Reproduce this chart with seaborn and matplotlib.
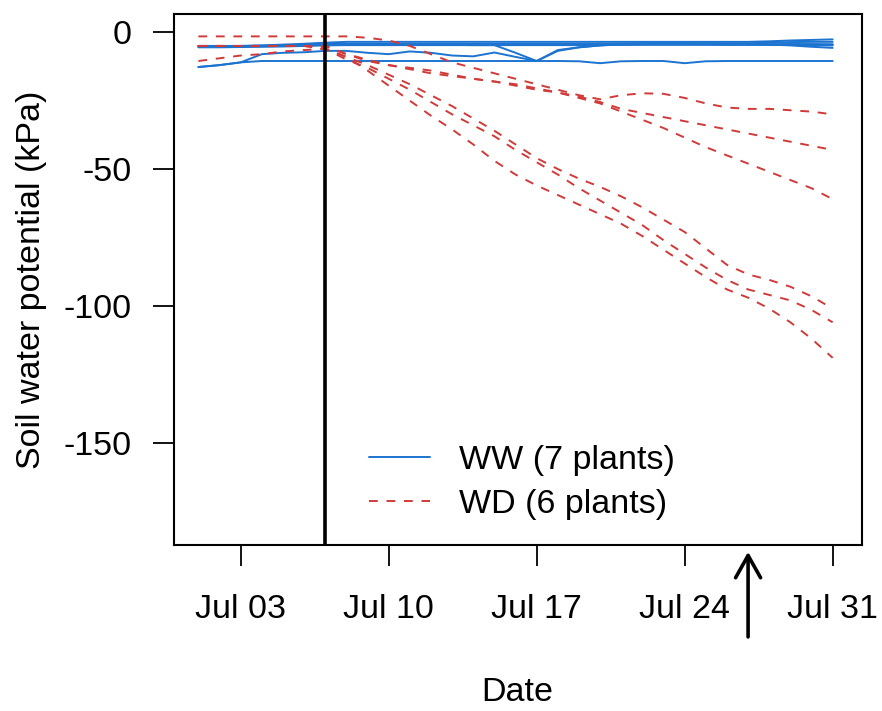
import numpy as np
import pandas as pd
import matplotlib
matplotlib.use("Agg")
import matplotlib.pyplot as plt
import matplotlib.dates as mdates
from matplotlib.lines import Line2D
import seaborn as sns

sns.set_theme(style="white")
plt.rcParams['font.family'] = ['Liberation Sans', 'DejaVu Sans']
plt.rcParams['text.color'] = 'black'

dates = pd.date_range("2023-07-01", "2023-07-31", freq="D")

# Well-watered (WW) plants, kPa
ww1 = [-12.7, -12, -11, -10.5, -10.5, -10.5, -10.5, -10.5, -10.5, -10.5, -10.5, -10.5, -10.5, -10.5, -10.5,
       -10.5, -10.5, -10.5, -10.6, -11.3, -10.6, -10.5, -10.5, -11.3, -10.6, -10.5, -10.5, -10.5, -10.5, -10.5, -10.5]
ww2 = [-12.7, -12, -11, -8, -7.5, -7.3, -6.8, -6.8, -7.5, -8, -7, -7.5, -8.5, -8.8, -7.4,
       -9, -10.5, -6.8, -5.5, -4.8, -4.3, -4.2, -4.2, -4.2, -4.3, -4.3, -4.3, -4.5, -4.8, -5.3, -5.7]
ww3 = [-5, -5, -5, -5, -4.8, -4.6, -4.5, -4.5, -4.5, -4.5, -4.5, -4.5, -4.6, -4.7, -4.7,
       -7.5, -10.5, -6.5, -5.5, -4.8, -4.5, -4.3, -4.2, -4.2, -4.3, -4.4, -4.4, -4.4, -4.3, -4.3, -4.4]
ww4 = [-5, -5, -5, -4.8, -4.5, -4.2, -3.8, -3.5, -3.5, -3.5, -3.5, -3.5, -3.5, -3.5, -3.5,
       -3.5, -3.5, -3.5, -3.5, -3.5, -3.5, -3.5, -3.5, -3.5, -3.5, -3.5, -3.5, -3.3, -3.0, -2.8, -2.6]
ww5 = [-5, -5, -5, -4.9, -4.8, -4.6, -4.3, -4.2, -4.2, -4.2, -4.2, -4.2, -4.2, -4.2, -4.2,
       -4.2, -4.2, -4.2, -4.2, -4.2, -4.1, -4.0, -4.0, -4.0, -4.0, -4.0, -4.0, -3.8, -3.6, -3.5, -3.5]
ww6 = [-5.3, -5.3, -5.2, -5.1, -5, -4.8, -4.6, -4.5, -4.5, -4.5, -4.5, -4.5, -4.5, -4.5, -4.5,
       -4.5, -4.5, -4.5, -4.5, -4.5, -4.4, -4.4, -4.4, -4.4, -4.4, -4.5, -4.5, -4.6, -4.6, -4.7, -4.8]
ww7 = [-5.5, -5.5, -5.4, -5.3, -5.2, -5.0, -4.8, -4.7, -4.7, -4.7, -4.7, -4.7, -4.7, -4.7, -4.7,
       -4.7, -4.7, -4.7, -4.7, -4.7, -4.6, -4.6, -4.6, -4.6, -4.6, -4.6, -4.6, -4.5, -4.5, -4.5, -4.5]

# Water-deficit (WD) plants, kPa
wd1 = [-1.5, -1.5, -1.5, -1.5, -1.5, -1.5, -1.5, -1.5, -2, -3, -5, -8, -11, -13, -15,
       -17, -19, -21, -23, -24.5, -23, -22.3, -22.5, -24, -26, -27.5, -28, -28, -28.5, -29, -30]
wd2 = [-5, -5, -5, -5, -5, -5, -5, -8, -10, -12, -13, -14, -15.5, -17, -18,
       -19.5, -21, -22, -23.5, -25.5, -28, -29.5, -31, -32.5, -34, -35.5, -37, -38.5, -40, -41.5, -43]
wd3 = [-5, -5, -5, -5, -5, -5, -5, -8, -10.5, -12, -13.5, -15, -16, -17, -18,
       -19, -20.5, -22, -24, -26, -29, -32, -35, -38.5, -42, -45, -48, -51, -54, -57, -61]
wd4 = [-5, -5, -5, -5, -5, -5, -6, -9, -12, -15.5, -19, -23, -27, -31.5, -36,
       -41, -46, -50, -53.5, -56.5, -60, -64, -68.5, -73, -79, -85, -88.5, -90.5, -93, -96.5, -101]
wd5 = [-5, -5, -5, -5, -5, -5, -6, -10, -13, -17, -21, -25.5, -30, -34, -38,
       -43, -47.5, -52, -57, -61.5, -66, -70.5, -76, -81, -86, -90.5, -94, -96, -98, -101.5, -106]
wd6 = [-10.5, -9.5, -8.5, -8, -7, -6.5, -6, -9, -14, -19.5, -25, -30.5, -35.5, -41, -47,
       -52, -56, -59.5, -63, -66.5, -70, -74.5, -79.5, -84.5, -89.5, -94, -97, -101, -106, -112, -119]

ww_series = [ww1, ww2, ww3, ww4, ww5, ww6, ww7]
wd_series = [wd1, wd2, wd3, wd4, wd5, wd6]

rows = []
for i, s in enumerate(ww_series):
    for d, v in zip(dates, s):
        rows.append({"date": d, "swp": v, "group": "WW", "plant": f"WW{i+1}"})
for i, s in enumerate(wd_series):
    for d, v in zip(dates, s):
        rows.append({"date": d, "swp": v, "group": "WD", "plant": f"WD{i+1}"})
df = pd.DataFrame(rows)

blue = "#1C74D0"
red = "#D23A3A"
dash = (0, (4.5, 4.5))
FS = 24.5

fig = plt.figure(figsize=(8.82, 7.11), dpi=100)
ax = fig.add_axes([0.197, 0.2335, 0.78, 0.7465])

sns.lineplot(data=df[df.group == "WW"], x="date", y="swp", units="plant", estimator=None,
             color=blue, lw=1.4, ax=ax, legend=False)
sns.lineplot(data=df[df.group == "WD"], x="date", y="swp", units="plant", estimator=None,
             color=red, lw=1.4, ax=ax, legend=False, linestyle=dash)

treat_date = pd.Timestamp("2023-07-07")
arrow_date = pd.Timestamp("2023-07-27")
ax.axvline(treat_date, color="black", lw=2.6)

ax.set_xlim(pd.Timestamp("2023-06-29 20:00"), pd.Timestamp("2023-08-01 09:00"))
ax.set_ylim(-187.4, 6.6)

xticks = pd.to_datetime(["2023-07-03", "2023-07-10", "2023-07-17", "2023-07-24", "2023-07-31"])
ax.set_xticks(xticks)
ax.xaxis.set_major_formatter(mdates.DateFormatter("%b %d"))
ax.set_yticks([0, -50, -100, -150])
ax.set_yticklabels(["0", "-50", "-100", "-150"])

ax.tick_params(axis="both", which="major", direction="out", length=15, width=1.3,
               color="black", labelsize=FS, labelcolor="black", left=True, bottom=True)
ax.tick_params(axis="x", pad=20)
ax.tick_params(axis="y", pad=15)

for sp in ax.spines.values():
    sp.set_visible(True)
    sp.set_color("black")
    sp.set_linewidth(1.5)

ax.set_xlabel("Date", fontsize=FS, color="black", labelpad=38)
ax.set_ylabel("Soil water potential (kPa)", fontsize=FS, color="black", labelpad=12)

ax.annotate("", xy=(arrow_date, -189.9), xytext=(arrow_date, -221),
            xycoords="data", textcoords="data", annotation_clip=False,
            arrowprops=dict(arrowstyle="->,head_length=0.8,head_width=0.45", lw=2.6, color="black",
                            shrinkA=0, shrinkB=0, mutation_scale=20))

handles = [Line2D([], [], color=blue, lw=1.4),
           Line2D([], [], color=red, lw=1.4, linestyle=dash)]
ax.legend(handles, ["WW (7 plants)", "WD (6 plants)"], loc="center",
          bbox_to_anchor=(0.506, 0.118), frameon=False, fontsize=FS, handlelength=1.8,
          handletextpad=0.86, labelspacing=0.38, borderpad=0, labelcolor="black")

fig.savefig("out.png", dpi=100)
